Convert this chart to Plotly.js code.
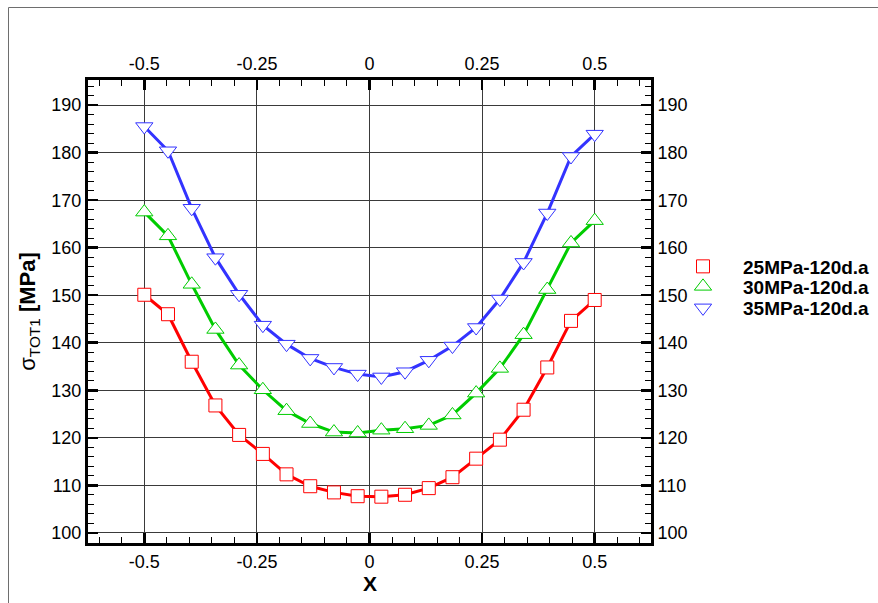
<!DOCTYPE html>
<html>
<head>
<meta charset="utf-8">
<script src="https://cdn.plot.ly/plotly-3.0.1.min.js"></script>
<style>
  html, body { margin: 0; padding: 0; background: #ffffff; }
  #chart { width: 878px; height: 603px; }
</style>
</head>
<body>
<div id="chart"></div>
<script>
// Position along the section (X)
const xPos = [-0.5, -0.4474, -0.3947, -0.3421, -0.2895, -0.2368, -0.1842, -0.1316, -0.0789, -0.0263,
              0.0263, 0.0789, 0.1316, 0.1842, 0.2368, 0.2895, 0.3421, 0.3947, 0.4474, 0.5];

// Total stress sigma_TOT1 [MPa] for each load case
const s25 = [150.1, 146.0, 136.0, 126.8, 120.6, 116.6, 112.3, 109.8, 108.5, 107.7,
             107.6, 108.0, 109.4, 111.7, 115.6, 119.6, 125.9, 134.8, 144.6, 149.0];
const s30 = [167.5, 162.5, 152.3, 142.8, 135.3, 130.1, 125.7, 123.0, 121.2, 121.0,
             121.6, 121.9, 122.6, 124.8, 129.4, 134.6, 141.7, 151.2, 161.0, 165.7];
const s35 = [185.5, 180.4, 168.3, 157.9, 150.2, 143.7, 139.7, 136.7, 134.8, 133.4,
             132.8, 133.9, 136.3, 139.3, 143.2, 149.2, 156.9, 167.3, 179.2, 183.9];

const seriesNames = ['25MPa-120d.a', '30MPa-120d.a', '35MPa-120d.a'];

// Axis ticks
const xTickVals = [-0.5, -0.25, 0, 0.25, 0.5];
const xTickText = ['-0.5', '-0.25', '0', '0.25', '0.5'];
const yTickVals = [100, 110, 120, 130, 140, 150, 160, 170, 180, 190];
const yTickText = ['100', '110', '120', '130', '140', '150', '160', '170', '180', '190'];

const FONT = 'Arial, "Liberation Sans", sans-serif';
const xRange = [-0.625, 0.625];
const yRange = [97.85, 195.3];

const styles = [
  { color: '#ff0000', symbol: 'square', size: 13 },
  { color: '#00cc00', symbol: 'triangle-up', size: 15 },
  { color: '#3333ff', symbol: 'triangle-down', size: 15 }
];
const values = [s25, s30, s35];
const legendIds = ['legend', 'legend2', 'legend3'];

const traces = [];
// connecting lines (kept out of the legend)
values.forEach((ys, i) => {
  traces.push({
    x: xPos, y: ys, type: 'scatter', mode: 'lines',
    xaxis: 'x', yaxis: 'y',
    line: { color: styles[i].color, width: 3 },
    showlegend: false, hoverinfo: 'skip'
  });
});
// white-filled symbols drawn above the lines, on the mirrored axes
values.forEach((ys, i) => {
  traces.push({
    x: xPos, y: ys, type: 'scatter', mode: 'markers', name: seriesNames[i],
    xaxis: 'x2', yaxis: 'y2', legend: legendIds[i],
    marker: {
      symbol: styles[i].symbol,
      size: styles[i].size,
      color: '#ffffff',
      line: { color: styles[i].color, width: 1 }
    },
    hoverinfo: 'skip'
  });
});

const W = 878, H = 603;
const L = 88, R = 651, T = 80, B = 543;
const px = v => (v - L) / (R - L);
const py = v => (B - v) / (B - T);

const tickFont = { family: FONT, size: 18, color: '#000000' };
const baseAxis = {
  showline: true, linecolor: '#000000', linewidth: 3,
  ticks: 'inside', ticklen: 10, tickwidth: 2.5, tickcolor: '#000000',
  tickfont: tickFont, zeroline: false, fixedrange: true, automargin: false
};
const xMinor = { ticks: 'inside', ticklen: 6, tickwidth: 1, tickcolor: '#000000', dtick: 0.05, tick0: 0, showgrid: false };
const yMinor = { ticks: 'inside', ticklen: 6, tickwidth: 1, tickcolor: '#000000', dtick: 2, tick0: 0, showgrid: false };

// legends are placed on the page itself so they never resize the plot area
const legendBase = {
  xref: 'container', yref: 'container',
  x: 663 / W, xanchor: 'left', yanchor: 'top',
  bgcolor: 'rgba(0,0,0,0)', borderwidth: 0, itemwidth: 70,
  font: { family: FONT, size: 19, color: '#000000', weight: 'bold' }
};

const layout = {
  width: W, height: H,
  margin: { l: L, r: W - R, t: T, b: H - B, pad: 0 },
  paper_bgcolor: '#ffffff', plot_bgcolor: '#ffffff',
  font: { family: FONT, color: '#000000' },
  showlegend: true,
  legend: Object.assign({}, legendBase, { y: 1 - 247.5 / H }),
  legend2: Object.assign({}, legendBase, { y: 1 - 267.5 / H }),
  legend3: Object.assign({}, legendBase, { y: 1 - 289 / H }),
  xaxis: Object.assign({}, baseAxis, {
    range: xRange, tickmode: 'array', tickvals: xTickVals, ticktext: xTickText,
    showgrid: true, gridcolor: '#3a3a3a', gridwidth: 1, minor: xMinor
  }),
  yaxis: Object.assign({}, baseAxis, {
    range: yRange, tickmode: 'array', tickvals: yTickVals, ticktext: yTickText,
    showgrid: true, gridcolor: '#3a3a3a', gridwidth: 1, minor: yMinor,
    title: { text: 'σ<sub>TOT1</sub> <b>[MPa]</b>', font: { family: FONT, size: 22, color: '#000000' }, standoff: 10 }
  }),
  xaxis2: Object.assign({}, baseAxis, {
    overlaying: 'x', side: 'top', anchor: 'y2',
    range: xRange, tickmode: 'array', tickvals: xTickVals, ticktext: xTickText,
    showgrid: false, minor: xMinor
  }),
  yaxis2: Object.assign({}, baseAxis, {
    overlaying: 'y', side: 'right', anchor: 'x2',
    range: yRange, tickmode: 'array', tickvals: yTickVals, ticktext: yTickText,
    showgrid: false, minor: yMinor
  }),
  annotations: [
    // x-axis title
    { text: '<b>X</b>', xref: 'paper', yref: 'paper', x: 0.5, y: py(583.5),
      xanchor: 'center', yanchor: 'middle', showarrow: false, borderpad: 0,
      font: { family: FONT, size: 21, color: '#000000' } }
  ],
  shapes: [
    // page frame (left and top edges)
    { type: 'line', xref: 'paper', yref: 'paper', x0: px(8.5), x1: px(8.5), y0: py(7.5), y1: py(620),
      line: { color: '#6e6e6e', width: 1 } },
    { type: 'line', xref: 'paper', yref: 'paper', x0: px(8.5), x1: px(900), y0: py(7.5), y1: py(7.5),
      line: { color: '#6e6e6e', width: 1 } }
  ]
};

Plotly.newPlot('chart', traces, layout, { displayModeBar: false, staticPlot: true });
</script>
</body>
</html>
